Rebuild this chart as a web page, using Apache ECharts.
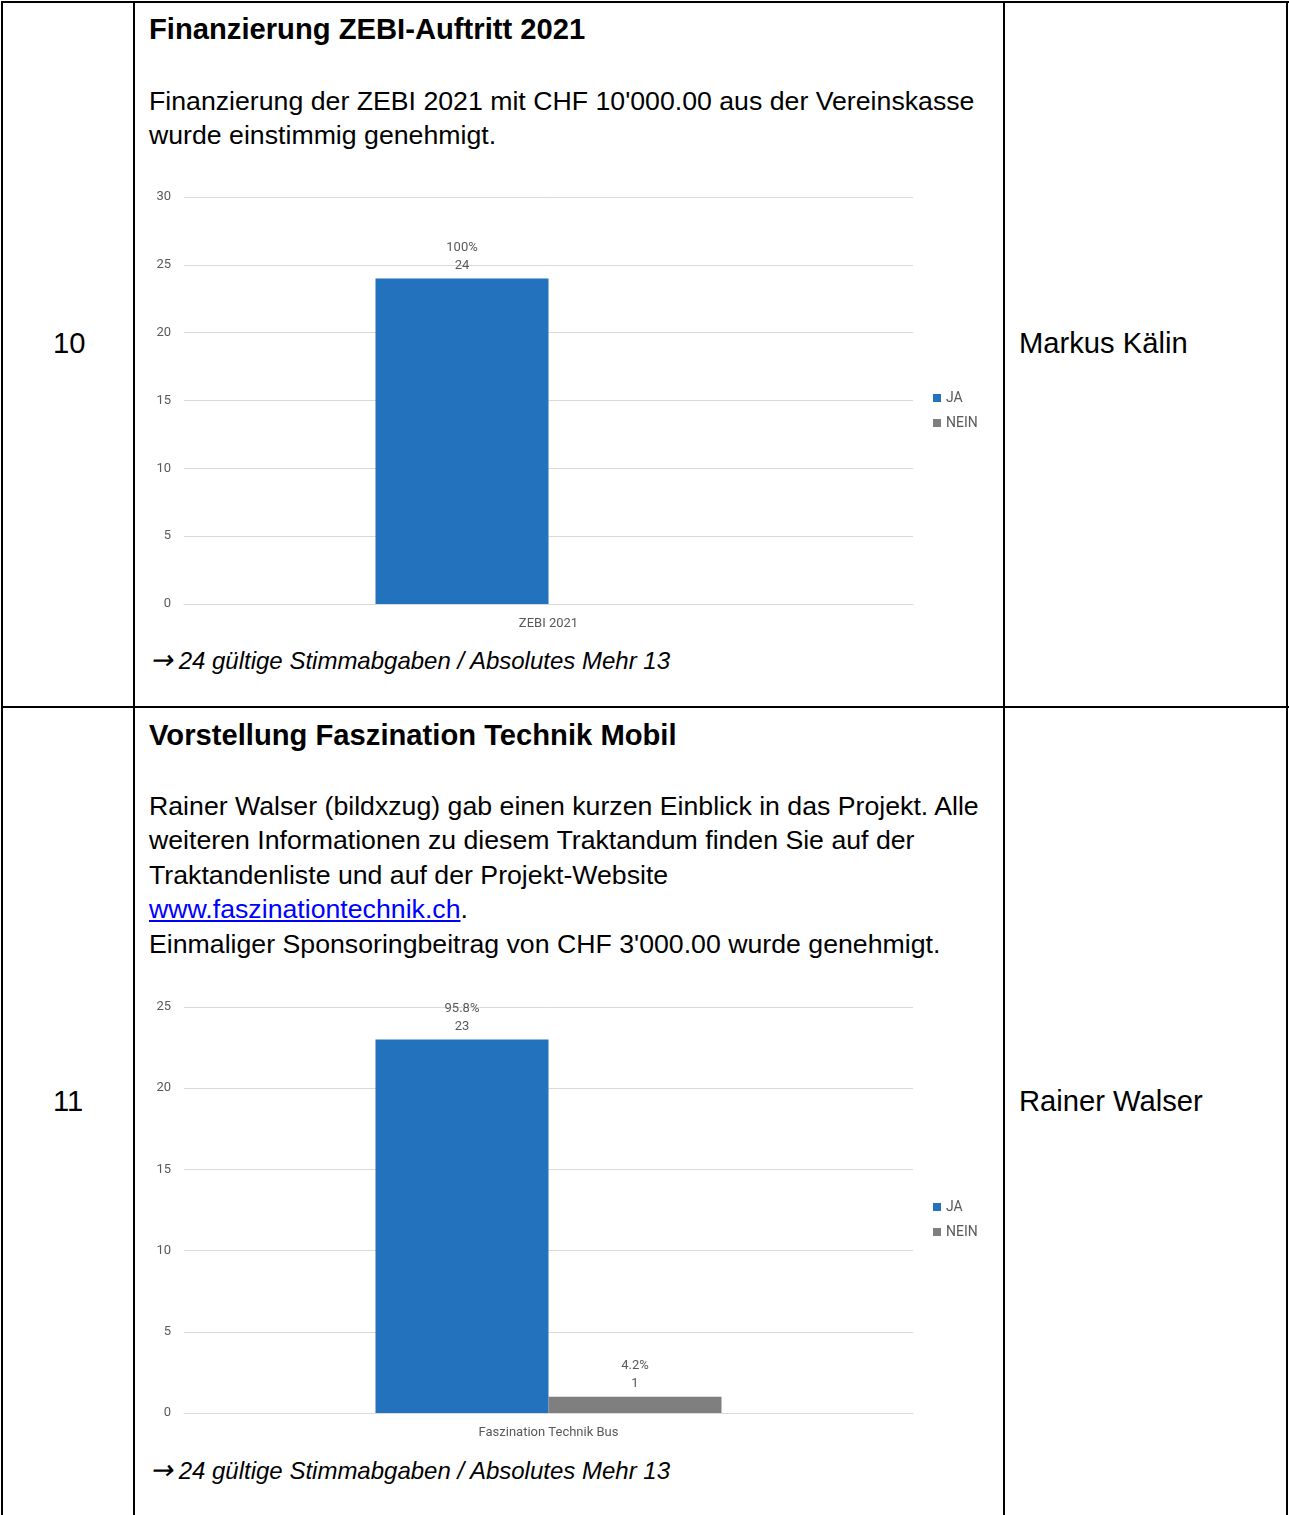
<!DOCTYPE html>
<html>
<head>
<meta charset="utf-8">
<script src="https://cdn.jsdelivr.net/npm/echarts@6/dist/echarts.min.js"></script>
<style>
  html, body { margin:0; padding:0; background:#fff; }
  body { width:1289px; height:1515px; position:relative; overflow:hidden; font-family:"Liberation Sans", Arial, sans-serif; color:#000; }
  .ln { position:absolute; background:#000; }
  .t { position:absolute; white-space:nowrap; }
  .title { font-weight:bold; font-size:29.2px; line-height:34.5px; }
  .body { font-size:26.7px; line-height:34.5px; }
  .side { font-size:29.2px; line-height:34.5px; }
  .foot { font-style:italic; font-size:24px; line-height:30px; }
  .arr { font-family:"DejaVu Sans", sans-serif; font-style:normal; font-size:27px; display:inline-block; transform:skewX(-10deg); margin-right:4px; }
  a { color:#0000ff; text-decoration:underline; }
  .chart { position:absolute; }
</style>
</head>
<body>
<!-- table borders -->
<div class="ln" style="left:1px;top:1px;width:1288px;height:2px"></div>
<div class="ln" style="left:1px;top:706px;width:1288px;height:2px"></div>
<div class="ln" style="left:1px;top:1px;width:2px;height:1514px"></div>
<div class="ln" style="left:133px;top:1px;width:2px;height:1514px"></div>
<div class="ln" style="left:1003px;top:1px;width:2px;height:1514px"></div>
<div class="ln" style="left:1286px;top:1px;width:2px;height:1514px"></div>

<!-- row 1 -->
<div class="t side" style="left:53px;top:326px">10</div>
<div class="t title" style="left:149px;top:11.7px">Finanzierung ZEBI-Auftritt 2021</div>
<div class="t body" style="left:149px;top:83.5px">Finanzierung der ZEBI 2021 mit CHF 10'000.00 aus der Vereinskasse<br>wurde einstimmig genehmigt.</div>
<div class="t foot" style="left:152px;top:645px"><span class="arr">→</span>24 gültige Stimmabgaben / Absolutes Mehr 13</div>
<div class="t side" style="left:1019px;top:326px">Markus Kälin</div>
<div id="c1" class="chart" style="left:140px;top:180px;width:860px;height:460px"></div>

<!-- row 2 -->
<div class="t side" style="left:53px;top:1084px">11</div>
<div class="t title" style="left:149px;top:717.7px">Vorstellung Faszination Technik Mobil</div>
<div class="t body" style="left:149px;top:788.5px">Rainer Walser (bildxzug) gab einen kurzen Einblick in das Projekt. Alle<br>weiteren Informationen zu diesem Traktandum finden Sie auf der<br>Traktandenliste und auf der Projekt-Website<br><a>www.faszinationtechnik.ch</a>.<br>Einmaliger Sponsoringbeitrag von CHF 3'000.00 wurde genehmigt.</div>
<div class="t foot" style="left:152px;top:1455px"><span class="arr">→</span>24 gültige Stimmabgaben / Absolutes Mehr 13</div>
<div class="t side" style="left:1019px;top:1084px">Rainer Walser</div>
<div id="c2" class="chart" style="left:140px;top:990px;width:860px;height:460px"></div>

<script>
// ---- data ----
const seriesNames = ['JA', 'NEIN'];
const categories1 = ['ZEBI 2021'];
const ja1 = [24];
const nein1 = [0];
const jaPct1 = ['100%'];
const neinPct1 = [''];
const yTicks1 = { min: 0, max: 30, interval: 5 };

const categories2 = ['Faszination Technik Bus'];
const ja2 = [23];
const nein2 = [1];
const jaPct2 = ['95.8%'];
const neinPct2 = ['4.2%'];
const yTicks2 = { min: 0, max: 25, interval: 5 };

const BLUE = '#2372BE';
const GRAY = '#7F7F7F';
const TXT = '#595959';
const FONT = 'Roboto, "Liberation Sans", sans-serif';

function makeOption(categories, ja, nein, jaPct, neinPct, yTicks, gridH, legendTop) {
  const lbl = (pcts) => ({
    show: true, position: 'top', distance: 4,
    color: TXT, fontFamily: FONT, fontSize: 13, lineHeight: 18,
    formatter: p => (p.value ? pcts[p.dataIndex] + '\n' + p.value : '')
  });
  return {
    animation: false,
    textStyle: { fontFamily: FONT },
    grid: { left: 44, top: 17, width: 729, height: gridH },
    legend: {
      data: seriesNames, orient: 'vertical', left: 793, top: legendTop, padding: 0,
      icon: 'rect', itemWidth: 8, itemHeight: 8, itemGap: 11,
      textStyle: { color: TXT, fontFamily: FONT, fontSize: 14, lineHeight: 14 }
    },
    xAxis: {
      type: 'category', data: categories,
      axisLine: { show: true, lineStyle: { color: '#d9d9d9', width: 1 } },
      axisTick: { show: false },
      axisLabel: { color: TXT, fontFamily: FONT, fontSize: 13, margin: 13 }
    },
    yAxis: {
      type: 'value', min: yTicks.min, max: yTicks.max, interval: yTicks.interval,
      axisLine: { show: false }, axisTick: { show: false },
      axisLabel: { color: TXT, fontFamily: FONT, fontSize: 13, margin: 13 },
      splitLine: { lineStyle: { color: '#d9d9d9', width: 1 } }
    },
    series: [
      { name: seriesNames[0], type: 'bar', data: ja, barWidth: 173, barGap: '0%',
        itemStyle: { color: BLUE }, label: lbl(jaPct) },
      { name: seriesNames[1], type: 'bar', data: nein, barWidth: 173, barGap: '0%',
        itemStyle: { color: GRAY }, label: lbl(neinPct) }
    ]
  };
}

const c1 = echarts.init(document.getElementById('c1'));
c1.setOption(makeOption(categories1, ja1, nein1, jaPct1, neinPct1, yTicks1, 407, 211));
const c2 = echarts.init(document.getElementById('c2'));
c2.setOption(makeOption(categories2, ja2, nein2, jaPct2, neinPct2, yTicks2, 406, 210));
</script>
</body>
</html>
